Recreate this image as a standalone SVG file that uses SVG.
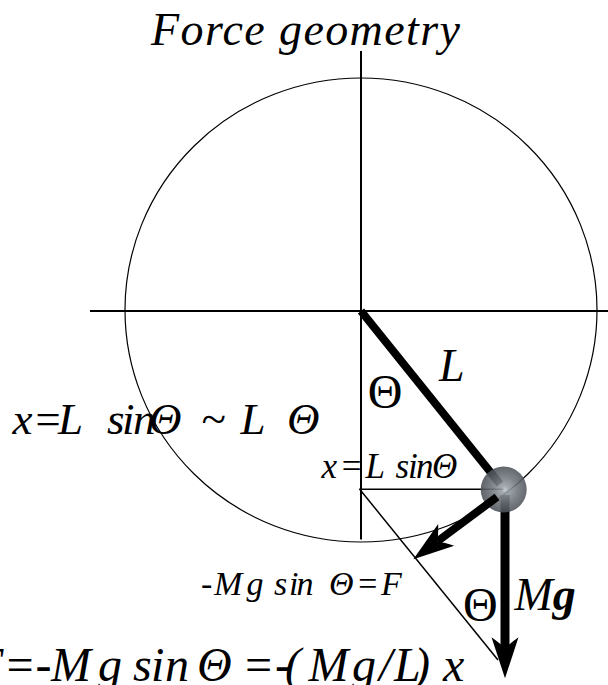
<svg xmlns="http://www.w3.org/2000/svg" width="608" height="685" viewBox="0 0 608 685">
<defs>
<style>
.ax{stroke:#000;stroke-width:2;fill:none}
.thin{stroke:#000;stroke-width:1.5;fill:none}
.vec{stroke:#000;fill:none;stroke-linecap:butt}
</style>
<radialGradient id="bobGrad" cx="0.52" cy="0.5" r="0.5">
<stop offset="0" stop-color="#d2d9dd"/>
<stop offset="0.12" stop-color="#9ba3a9"/>
<stop offset="0.55" stop-color="#6f757c"/>
<stop offset="1" stop-color="#4d5258"/>
</radialGradient>
<filter id="soft" x="-20%" y="-20%" width="140%" height="140%"><feGaussianBlur stdDeviation="0.7"/></filter>
<marker id="head" markerUnits="userSpaceOnUse" markerWidth="44" markerHeight="30" viewBox="-12 -15 44 30" refX="0" refY="0" orient="auto">
<path d="M30,0 L-11,-13.5 Q-5,-5 0,0 Q-5,5 -11,13.5 Z" fill="#000"/>
</marker>
</defs>

<rect width="608" height="685" fill="#fff"/>

<g id="title">
<text font-family="'Liberation Serif', serif" font-style="italic" y="45" font-size="46" letter-spacing="1.4"><tspan x="151">Force</tspan><tspan x="279">geometry</tspan></text>
</g>

<g id="circle">
<ellipse cx="361" cy="310" rx="236" ry="232" fill="none" stroke="#000" stroke-width="1.2"/>
</g>

<g id="axes">
<line class="ax" x1="90" y1="311" x2="608" y2="311"/>
<line class="ax" x1="361" y1="51" x2="361" y2="539.5"/>
</g>

<g id="connectors">
<line id="xline" class="thin" x1="359.3" y1="489.3" x2="505" y2="489.3"/>
<line id="diagonal" class="thin" stroke-width="1.3" x1="359.5" y1="489" x2="498" y2="660"/>
<line id="rod" class="vec" stroke-width="8" x1="361" y1="311" x2="500" y2="484"/>
<line id="Mg-vector" class="vec" stroke-width="9" x1="505" y1="495" x2="505" y2="648.3" marker-end="url(#head)"/>
</g>

<g id="bob">
<circle cx="503.7" cy="489.5" r="23" fill="url(#bobGrad)" opacity="0.88" filter="url(#soft)"/>
</g>

<g id="force">
<line id="F-vector" class="vec" stroke-width="8" x1="497" y1="497" x2="437.4" y2="541.4" marker-end="url(#head)"/>
</g>

<g id="labels">
<text id="label-L" font-family="'Liberation Serif', serif" font-style="italic" x="439" y="381" font-size="46">L</text>
<text id="theta-top" font-family="'Liberation Serif', serif" x="385" y="408.3" font-size="48" text-anchor="middle">Θ</text>
<text id="theta-bottom" font-family="'Liberation Serif', serif" x="480.3" y="621" font-size="48" text-anchor="middle">Θ</text>
<text id="label-Mg" font-family="'Liberation Serif', serif" font-style="italic" y="610" font-size="46"><tspan x="514.5">M</tspan><tspan font-weight="bold">g</tspan></text>
<text id="eq-approx" font-family="'Liberation Serif', serif" font-style="italic" y="433.5" font-size="45" x="12.5 32.5 58 85 107 122 133 149 185 201 228 240.5 266 287">x=L sinΘ ~ L Θ</text>
<text id="eq-x" font-family="'Liberation Serif', serif" font-style="italic" y="478.3" font-size="35" x="321.5 339.5 365.5 395.5 408 416 432">x=LsinΘ</text>
<text id="eq-F" font-family="'Liberation Serif', serif" font-style="italic" y="595" font-size="34" x="201 214 246.5 263 274 289 296.5 315 329 356 381">-Mg sin Θ=F</text>
<text id="eq-bottom" font-family="'Liberation Serif', serif" font-style="italic" y="681" font-size="48" x="-26 3.5 35.5 51 98 122 133 151 165 197 242 275 285 308.5 352 379 394 414 430 443">F=-Mg sinΘ=-(Mg/L) x</text>
</g>
</svg>
